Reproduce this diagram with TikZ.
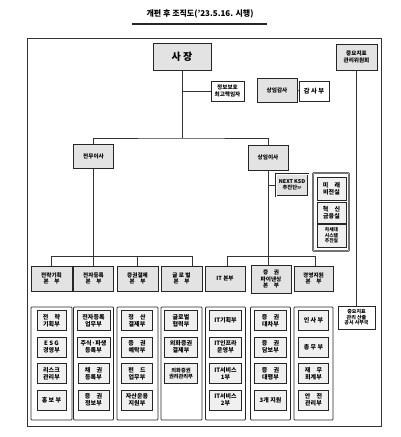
\documentclass[tikz,border=0pt]{standalone}
\usepackage{fontspec}
\setmainfont{Noto Sans CJK KR}
\usetikzlibrary{shadows}
\begin{document}
\begin{tikzpicture}[x=1pt,y=-1pt,
  base/.style={align=center, inner sep=0.3pt, font=\fontsize{5.6}{6.3}\selectfont\bfseries, line width=0.7pt, draw=black!85},
  sz/.style 2 args={minimum width=#1pt, minimum height=#2pt},
  shd/.style={drop shadow={shadow xshift=0.9pt, shadow yshift=-0.9pt, fill=black!55, opacity=0.7}},
  gbox/.style={base, fill=gray!22, shd},
  wbox/.style={base, fill=white, shd},
  colbox/.style={draw=black!85, line width=0.75pt, fill=white, rounded corners=0.8pt},
  ubox/.style={base, fill=gray!12, line width=0.8pt, font=\fontsize{6}{6.6}\selectfont\bfseries, shd},
  conn/.style={draw=black!80, line width=0.75pt},
  title/.style={font=\fontsize{8}{9}\selectfont\bfseries}
]
\useasboundingbox (0,0) rectangle (400,437);
% title
\node[title] (ttl) at (200,14) {개편 후 조직도('23.5.16. 시행)};
\coordinate (ul1) at (132,24);
\coordinate (ul2) at (267,24);
\draw[line width=1.4pt, black!85] (ul1) -- (ul2);
% frame
\node[draw=black!80, line width=0.8pt, minimum width=354pt, minimum height=388pt, inner sep=0pt] (frame) at (204,232) {};
% top level
\node[gbox, sz={58}{27}, font=\fontsize{10}{11}\selectfont\bfseries] (saj) at (182,56.5) {사\ 장};
\node[wbox, sz={33}{20}] (jb) at (227.5,91) {정보보호\\최고책임자};
\node[gbox, sz={40}{24}] (sg) at (277,90) {상임감사};
\node[wbox, sz={30}{20}, font=\fontsize{6.3}{7}\selectfont\bfseries] (gs) at (314,91) {감 사 부};
\node[gbox, sz={41}{26}] (kpi) at (356.5,57) {중요지표\\관리위원회};
\node[gbox, sz={40}{24}] (jm) at (93.5,156.5) {전무이사};
\node[gbox, sz={40}{25}] (si) at (268,157.5) {상임이사};
\node[gbox, sz={32}{22}, double=white, double distance=0.5pt, line width=0.45pt, font=\fontsize{5.3}{6}\selectfont\bfseries] (nx) at (292,185) {NEXT KSD\\추진단{\fontsize{3.5}{4}\selectfont TF}};
% group of offices
\node[colbox, sz={36}{78}, double=white, double distance=0.6pt, line width=0.5pt] (grp) at (331,212) {};
\node[ubox, sz={29}{23}] (o1) at (331.5,188.5) {미\quad 래\\비전실};
\node[ubox, sz={29}{21}] (o2) at (331.5,212.5) {혁\quad 신\\금융실};
\node[ubox, sz={29}{23}, font=\fontsize{4.8}{5.4}\selectfont\bfseries] (o3) at (331.5,235.5) {차세대\\시스템\\추진실};
% headquarters
\node[gbox, sz={41}{25}] (h1) at (51.5,278.5) {전략기획\\본\quad 부};
\node[gbox, sz={40}{25}] (h2) at (93.5,278.5) {전자등록\\본\quad 부};
\node[gbox, sz={41}{25}] (h3) at (137.5,278.5) {증권결제\\본\quad 부};
\node[gbox, sz={41}{25}] (h4) at (181.5,278.5) {글 로 벌\\본\quad 부};
\node[gbox, sz={40}{25}] (h5) at (225,278.5) {IT 본부};
\node[gbox, sz={40}{28}] (h6) at (271,279) {증\quad 권\\파이낸싱\\본\quad 부};
\node[gbox, sz={39}{25}] (h7) at (313.5,278.5) {경영지원\\본\quad 부};
% columns
\node[colbox, sz={41}{113}] (c1) at (51.5,363.5) {};
\node[colbox, sz={40}{113}] (c2) at (93.5,363.5) {};
\node[colbox, sz={41}{113}] (c3) at (137.5,363.5) {};
\node[colbox, sz={41}{113}] (c4) at (181.5,363.5) {};
\node[colbox, sz={40}{113}] (c5) at (225.5,363.5) {};
\node[colbox, sz={40}{113}] (c6) at (270.5,363.5) {};
\node[colbox, sz={39}{113}] (c7) at (313.5,363.5) {};
% column 1
\node[ubox, sz={29}{20}] (a1) at (51.5,320.5) {전\quad 략\\기획부};
\node[ubox, sz={29}{20}] (a2) at (51.5,347) {E S G\\경영부};
\node[ubox, sz={29}{20}] (a3) at (51.5,373.5) {리스크\\관리부};
\node[ubox, sz={29}{20}] (a4) at (51.5,400) {홍 보 부};
% column 2
\node[ubox, sz={33}{20}] (b1) at (93.5,320.5) {전자등록\\업무부};
\node[ubox, sz={33}{20}] (b2) at (93.5,347) {주식·파생\\등록부};
\node[ubox, sz={31}{20}] (b3) at (93.5,373.5) {채\quad 권\\등록부};
\node[ubox, sz={31}{20}] (b4) at (93.5,400) {증\quad 권\\정보부};
% column 3
\node[ubox, sz={31}{20}] (d1) at (137,320.5) {정\quad 산\\결제부};
\node[ubox, sz={31}{20}] (d2) at (137,347) {증\quad 권\\예탁부};
\node[ubox, sz={31}{20}] (d3) at (137,373.5) {펀\quad 드\\업무부};
\node[ubox, sz={31}{20}] (d4) at (137,400) {자산운용\\지원부};
% column 4
\node[ubox, sz={33}{20}] (e1) at (181,320.5) {글로벌\\협력부};
\node[ubox, sz={33}{20}] (e2) at (181,347) {외화증권\\결제부};
\node[ubox, sz={33}{20}, font=\fontsize{5.2}{6}\selectfont\bfseries] (e3) at (181,373.5) {외화증권\\권리관리부};
% column 5
\node[ubox, sz={32}{20}] (f1) at (225.5,320.5) {IT기획부};
\node[ubox, sz={32}{20}] (f2) at (225.5,347) {IT인프라\\운영부};
\node[ubox, sz={32}{20}] (f3) at (225.5,373.5) {IT서비스\\1부};
\node[ubox, sz={32}{20}] (f4) at (225.5,400) {IT서비스\\2부};
% column 6
\node[ubox, sz={32}{20}] (g1) at (270.5,320.5) {증\quad 권\\대차부};
\node[ubox, sz={32}{20}] (g2) at (270.5,347) {증\quad 권\\담보부};
\node[ubox, sz={32}{20}] (g3) at (270.5,373.5) {증\quad 권\\대행부};
\node[ubox, sz={32}{20}] (g4) at (270.5,400) {3개 지원};
% column 7
\node[ubox, sz={30}{20}] (k1) at (313.5,320.5) {인 사 부};
\node[ubox, sz={30}{20}] (k2) at (313.5,347) {총 무 부};
\node[ubox, sz={30}{20}] (k3) at (313.5,373.5) {재\quad 무\\회계부};
\node[ubox, sz={30}{20}] (k4) at (313.5,400) {안\quad 전\\관리부};
% secretariat
\node[wbox, sz={37}{23}, font=\fontsize{5}{5.6}\selectfont\bfseries] (sec) at (356.5,317.5) {중요지표\\관리 산출\\공시 사무국};
% connectors
\coordinate (j0) at (182,138);
\coordinate (bl1) at (51.5,256);
\coordinate (bl4) at (192,256);
\coordinate (br1) at (227,256);
\coordinate (br2) at (315,256);
\draw[conn] (saj.south) -- (j0);
\draw[conn] (jm.north) |- (j0) -| (si.north);
\draw[conn] (jb.west) -- (jb.west -| saj.south);
\draw[conn] (sg.east) -- (gs.west);
\draw[conn] (jm.south) -- (h2.north);
\draw[conn] (bl1) -- (bl4);
\draw[conn] (bl1) -- (h1.north);
\draw[conn] (h3.north |- bl1) -- (h3.north);
\draw[conn] (bl4) -- (bl4 |- h4.north);
\draw[conn] (si.south) -- (si.south |- h6.north);
\draw[conn] (br1) -- (br2);
\draw[conn] (br1) -- (br1 |- h5.north);
\draw[conn] (br2) -- (br2 |- h7.north);
\draw[conn] (nx.west) -- (nx.west -| si.south);
\draw[conn] (kpi.south) -- (kpi.south |- sec.north);
\end{tikzpicture}
\end{document}
